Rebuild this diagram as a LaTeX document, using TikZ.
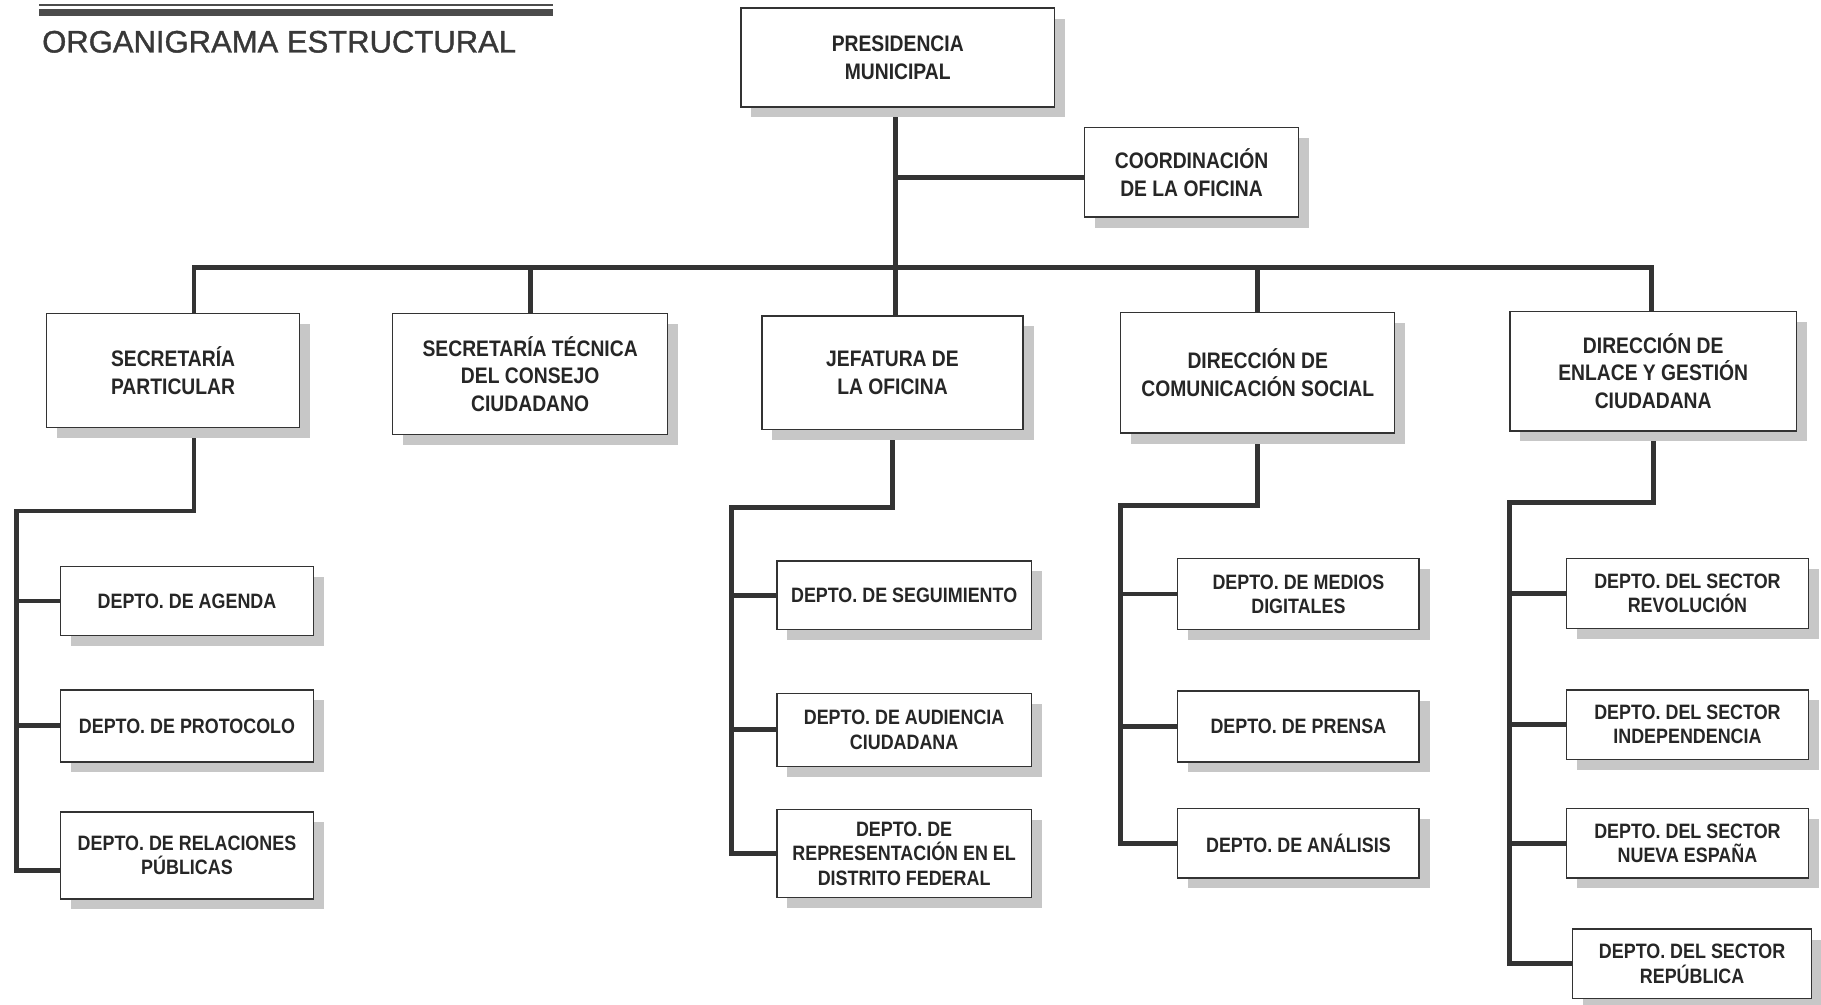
\documentclass[tikz,border=0pt]{standalone}
\usepackage{fontspec}
\newfontfamily\boxfont[FakeStretch=0.86]{Liberation Sans}
\newfontfamily\titlefont[FakeBold=1.2]{Liberation Sans}
\usetikzlibrary{shadows,backgrounds}
\tikzset{
  cargo/.style={draw=black!80, line width=0.7pt, fill=white, align=center, inner sep=0pt,
    text=black!85, font=\boxfont\bfseries\fontsize{11}{13.6}\selectfont,
    drop shadow={shadow xshift=0.18cm, shadow yshift=-0.18cm, fill=black!22, opacity=1}},
  depto/.style={cargo, font=\boxfont\bfseries\fontsize{10.2}{11.9}\selectfont},
  link/.style={line width=2.4pt, draw=black!80},
}
\begin{document}
\begin{tikzpicture}[x=0.02cm, y=-0.02cm]
    \useasboundingbox (0,0) rectangle (1568,865);
    \draw[black!70, line width=0.6pt](34,4.3)--(476,4.3);
    \draw[black!70, line width=3.2pt](34,10.8)--(476,10.8);
    \node[anchor=west, inner sep=0pt, text=black!78, font=\titlefont\fontsize{15.2}{17}\selectfont] (title) at (36,36) {ORGANIGRAMA ESTRUCTURAL};

    \node[cargo, minimum width=5.4cm, minimum height=1.7cm] (pres) at (773,49.5) {PRESIDENCIA\\MUNICIPAL};
    \node[cargo, minimum width=3.68cm, minimum height=1.54cm] (coord) at (1026,148.5) {COORDINACIÓN\\DE LA OFICINA};

    \node[cargo, minimum width=4.36cm, minimum height=1.96cm] (secpart) at (149,319) {SECRETARÍA\\PARTICULAR};
    \node[cargo, minimum width=4.74cm, minimum height=2.08cm] (sectec) at (456.5,322) {SECRETARÍA TÉCNICA\\DEL CONSEJO\\CIUDADANO};
    \node[cargo, minimum width=4.5cm, minimum height=1.96cm] (jef) at (768.5,321) {JEFATURA DE\\LA OFICINA};
    \node[cargo, minimum width=4.72cm, minimum height=2.08cm] (dircom) at (1083,321) {DIRECCIÓN DE\\COMUNICACIÓN SOCIAL};
    \node[cargo, minimum width=4.94cm, minimum height=2.06cm] (direnl) at (1423.5,319.5) {DIRECCIÓN DE\\ENLACE Y GESTIÓN\\CIUDADANA};

    \node[depto, minimum width=4.36cm, minimum height=1.18cm] (agenda) at (161,517.5) {DEPTO. DE AGENDA};
    \node[depto, minimum width=4.36cm, minimum height=1.24cm] (protocolo) at (161,625) {DEPTO. DE PROTOCOLO};
    \node[depto, minimum width=4.36cm, minimum height=1.5cm] (relaciones) at (161,736.5) {DEPTO. DE RELACIONES\\PÚBLICAS};

    \node[depto, minimum width=4.38cm, minimum height=1.18cm] (seguimiento) at (778.5,512.5) {DEPTO. DE SEGUIMIENTO};
    \node[depto, minimum width=4.38cm, minimum height=1.26cm] (audiencia) at (778.5,628.5) {DEPTO. DE AUDIENCIA\\CIUDADANA};
    \node[depto, minimum width=4.38cm, minimum height=1.52cm] (representacion) at (778.5,735) {DEPTO. DE\\REPRESENTACIÓN EN EL\\DISTRITO FEDERAL};

    \node[depto, minimum width=4.16cm, minimum height=1.22cm] (medios) at (1118,511.5) {DEPTO. DE MEDIOS\\DIGITALES};
    \node[depto, minimum width=4.16cm, minimum height=1.22cm] (prensa) at (1118,625.5) {DEPTO. DE PRENSA};
    \node[depto, minimum width=4.16cm, minimum height=1.2cm] (analisis) at (1118,726) {DEPTO. DE ANÁLISIS};

    \node[depto, minimum width=4.16cm, minimum height=1.2cm] (revolucion) at (1453,511) {DEPTO. DEL SECTOR\\REVOLUCIÓN};
    \node[depto, minimum width=4.16cm, minimum height=1.2cm] (independencia) at (1453,624) {DEPTO. DEL SECTOR\\INDEPENDENCIA};
    \node[depto, minimum width=4.16cm, minimum height=1.2cm] (nueva) at (1453,726) {DEPTO. DEL SECTOR\\NUEVA ESPAÑA};
    \node[depto, minimum width=4.12cm, minimum height=1.2cm] (republica) at (1457,830) {DEPTO. DEL SECTOR\\REPÚBLICA};

    \begin{pgfonlayer}{background}
    \coordinate (tr) at (771,230);
    \coordinate (b1) at (167,230);
    \coordinate (b5) at (1422,230);
    \draw[link](pres.south -| tr)--(jef.north -| tr);
    \draw[link]([yshift=-0.09cm]coord.west)--([yshift=-0.09cm]coord.west -| tr);
    \draw[link](secpart.north -| b1)|-(b5)--(direnl.north -| b5);
    \draw[link](sectec.north)--(sectec.north |- tr);
    \draw[link](dircom.north)--(dircom.north |- tr);

    \coordinate (e1) at (14,440);
    \draw[link](secpart.south -| b1)|-(e1)|-([yshift=-0.26cm]relaciones.west);
    \foreach \d in {agenda,protocolo}
        \draw[link](\d.west)--(\d.west -| e1);
    \coordinate (e2) at (630,437);
    \draw[link](jef.south)|-(e2)|-(representacion.west);
    \foreach \d in {seguimiento,audiencia}
        \draw[link](\d.west)--(\d.west -| e2);
    \coordinate (e3) at (965,435);
    \draw[link](dircom.south)|-(e3)|-(analisis.west);
    \foreach \d in {medios,prensa}
        \draw[link](\d.west)--(\d.west -| e3);
    \coordinate (e4) at (1300,433);
    \draw[link](direnl.south)|-(e4)|-(republica.west);
    \foreach \d in {revolucion,independencia,nueva}
        \draw[link](\d.west)--(\d.west -| e4);
    \end{pgfonlayer}
\end{tikzpicture}
\end{document}
